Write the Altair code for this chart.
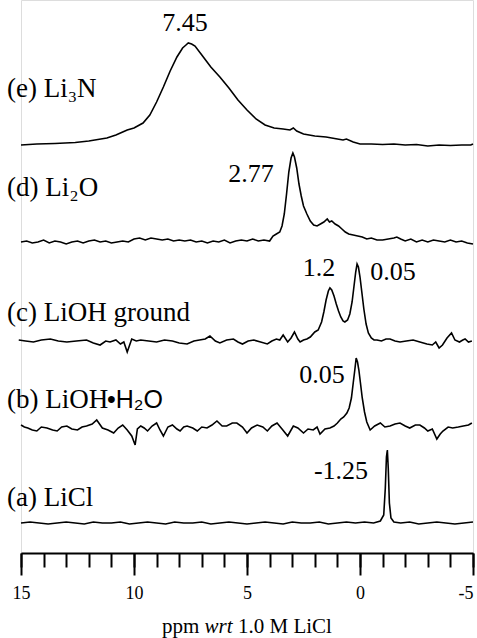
import altair as alt
import pandas as pd

# ---------------- data (ppm, intensity above each trace's own baseline) ----------------
series_names = ["a", "b", "c", "d", "e"]
offsets = {"a": 30, "b": 125, "c": 211, "d": 311, "e": 408}

a_ppm = [15.0, 14.6, 14.2, 13.8, 13.4, 13.0, 12.6, 12.2, 11.8, 11.4, 11.0, 10.6, 10.2, 9.8, 9.4,
         9.0, 8.6, 8.2, 7.8, 7.4, 7.0, 6.6, 6.2, 5.8, 5.4, 5.0, 4.6, 4.2, 3.8, 3.4, 3.0, 2.6, 2.2,
         1.8, 1.4, 1.0, 0.6, 0.2, -0.2, -0.6, -0.9, -1.05, -1.12, -1.17, -1.21, -1.25, -1.3, -1.37,
         -1.5, -1.8, -2.2, -2.6, -3.0, -3.4, -3.8, -4.2, -4.6, -5.0]
a_int = [0, 1, 0, -1, 0, 1, 0, -1, 1, 0, 0, 1, -1, 0, 1,
         0, -1, 1, 0, 0, 1, -1, 0, 1, 0, -1, 0, 1, 0, -1, 1, 0, 0,
         1, -1, 0, 1, 0, 1, 0, 2, 8, 35, 66, 73, 55, 20, 5,
         1, 0, 1, -1, 0, 1, 0, -1, 0, 1]

b_ppm = [15.0, 14.85, 14.7, 14.5, 14.3, 14.1, 13.85, 13.6, 13.4, 13.2, 12.97, 12.75, 12.5, 12.3,
         12.1, 11.85, 11.65, 11.4, 11.15, 10.9, 10.7, 10.5, 10.3, 10.1, 9.95, 9.85, 9.7, 9.55, 9.4,
         9.2, 9.0, 8.85, 8.7, 8.5, 8.3, 8.1, 7.96, 7.8, 7.65, 7.4, 7.2, 7.0, 6.77, 6.55, 6.33, 6.1,
         5.9, 5.65, 5.45, 5.2, 5.0, 4.8, 4.55, 4.3, 4.1, 3.9, 3.67, 3.45, 3.2, 2.95, 2.75, 2.5,
         2.3, 2.07, 1.9, 1.77, 1.55, 1.33, 1.15, 1.0, 0.85, 0.72, 0.58, 0.48, 0.38, 0.3, 0.23,
         0.17, 0.11, 0.05, -0.02, -0.1, -0.2, -0.3, -0.45, -0.65, -0.9, -1.1, -1.33, -1.55, -1.77,
         -2.0, -2.2, -2.45, -2.65, -2.85, -3.0, -3.2, -3.4, -3.55, -3.67, -3.9, -4.1, -4.35,
         -4.57, -4.8, -4.95]
b_int = [3, 1, 0, -2, -3, 1, 0, -2, -3, 1, 2, -1, -2, 1,
         2, 4, 8, 0, -2, -5, 0, 3, -2, -8, -17, -1, 2, 0, -3,
         2, 5, -2, -8, 1, 3, -1, -3, 1, 2, 0, -3, 1, 0, 3, 7, 2,
         2, 5, 5, 1, -5, 0, 3, 1, -3, 2, 5, -1, -8, 2, 0, -5,
         -1, -2, 1, -6, -1, 0, 2, 5, 9, 11, 15, 20, 30, 45, 58,
         70, 66, 58, 45, 30, 16, 6, -2, 2, 5, 1, 2, 4, 5,
         2, 0, 3, 3, 0, -3, -1, -11, -6, -3, 1, 0, 1,
         2, 3, 5]

c_ppm = [15.1, 14.8, 14.45, 14.1, 13.7, 13.35, 12.97, 12.55, 12.1, 11.8, 11.5, 11.25, 11.06, 10.8,
         10.6, 10.45, 10.3, 10.1, 9.9, 9.7, 9.35, 9.0, 8.65, 8.3, 8.0, 7.65, 7.35, 7.1, 6.85, 6.64,
         6.4, 6.2, 5.9, 5.6, 5.4, 5.2, 4.95, 4.7, 4.4, 4.1, 3.9, 3.7, 3.55, 3.4, 3.2, 3.05, 2.9,
         2.75, 2.65, 2.5, 2.35, 2.2, 2.0, 1.85, 1.7, 1.6, 1.5, 1.4, 1.33, 1.25, 1.15, 1.05, 0.95,
         0.85, 0.75, 0.67, 0.55, 0.45, 0.35, 0.27, 0.19, 0.13, 0.07, 0.0, -0.08, -0.17, -0.27,
         -0.37, -0.5, -0.62, -0.75, -0.95, -1.15, -1.33, -1.55, -1.77, -2.05, -2.35, -2.65, -2.96,
         -3.2, -3.35, -3.5, -3.65, -3.85, -4.05, -4.2, -4.4, -4.55, -4.65, -4.8, -4.95]
c_int = [2, 1, 0, 2, 3, 1, 0, 1, 2, -1, -3, 1, 0, 2,
         -2, 0, -10, 3, 1, 2, 1, 0, 2, 1, -1, -2, 1, 2, 3, 6,
         1, -1, 2, 3, 0, -2, 1, 2, 0, -2, 1, 3, 2, 7, 0, 4, 10,
         3, 0, 2, 3, 5, 10, 12, 20, 30, 42, 51, 54, 52, 46, 38, 31,
         25, 21, 20, 22, 28, 40, 55, 70, 78, 75, 65, 50, 33, 18,
         9, 4, 2, 2, 1, 3, 3, 1, 0, 1, 2, 0, -2,
         -3, 0, -6, -3, 4, 9, 2, 0, 2, 3, 0, 1]

d_ppm = [15.0, 14.75, 14.5, 14.25, 14.0, 13.75, 13.5, 13.25, 13.0, 12.75, 12.5, 12.25, 12.0,
         11.75, 11.5, 11.25, 11.0, 10.75, 10.5, 10.25, 10.0, 9.75, 9.5, 9.25, 9.0, 8.75, 8.5,
         8.25, 8.0, 7.75, 7.5, 7.25, 7.0, 6.75, 6.5, 6.25, 6.0, 5.75, 5.5, 5.25, 5.0, 4.75, 4.5,
         4.25, 4.0, 3.85, 3.7, 3.55, 3.45, 3.35, 3.25, 3.15, 3.05, 2.97, 2.9, 2.8, 2.7, 2.6, 2.5,
         2.35, 2.2, 2.05, 1.9, 1.75, 1.6, 1.45, 1.35, 1.25, 1.1, 0.95, 0.8, 0.65, 0.5, 0.3, 0.1,
         -0.1, -0.3, -0.5, -0.75, -1.0, -1.25, -1.5, -1.63, -1.8, -2.0, -2.25, -2.5, -2.75, -3.0,
         -3.25, -3.5, -3.75, -4.0, -4.25, -4.5, -4.75, -5.0]
d_int = [0, 1, -1, 0, 2, -1, 1, 0, -2, 0, 1, -1, 1,
         2, 0, 1, -1, 0, 1, 0, 3, 4, 2, 4, 3, 2, 3,
         1, 2, 1, 2, 0, 1, -1, 1, 0, 2, -1, 1, 2, 1, 3, 1,
         2, 1, 6, 8, 10, 16, 28, 48, 70, 84, 89, 85, 74, 58, 46, 36,
         28, 21, 17, 16, 18, 20, 23, 20, 21, 18, 16, 13, 10, 8, 7, 6,
         5, 3, 4, 2, 2, 3, 4, 5, 3, 1, 3, 0, 2, 0,
         2, 1, 0, 2, 0, 1, -1, -2]

e_ppm = [15.0, 14.3, 13.5, 12.6, 12.0, 11.2, 10.8, 10.5, 10.3, 10.0, 9.6, 9.3, 9.0, 8.7, 8.4,
         8.1, 7.85, 7.7, 7.6, 7.45, 7.3, 7.0, 6.6, 6.2, 5.8, 5.4, 5.0, 4.6, 4.2, 3.8, 3.4, 3.1,
         2.95, 2.8, 2.5, 2.0, 1.5, 1.0, 0.75, 0.6, 0.3, 0.0, -0.5, -1.0, -1.5, -2.0, -2.5, -3.0,
         -3.5, -4.0, -4.5, -4.9, -5.0]
e_int = [0, 1, 1.5, 2.5, 4, 7, 10, 13, 15, 17, 22, 30, 43, 58, 74,
         88, 97, 100, 102, 101, 99, 90, 78, 68, 57, 45, 35, 26, 20, 17, 16, 15,
         17, 14, 11, 9, 8, 6, 5, 6, 3, 1, 1, 0.5, 1, 0, 0.5, -1,
         0, -0.5, 0, 0, 1]

labels_text = ["(e) Li₃N", "(d) Li₂O", "(c) LiOH ground", "(b) LiOH", "(a) LiCl"]
labels_ppm = [15.62, 15.62, 15.62, 15.62, 15.62]
labels_y = [464, 365, 240, 153, 55]

sans_text = ["•H₂O"]
sans_ppm = [11.2]
sans_y = [153]

peak_text = ["7.45", "2.77", "1.2", "0.05", "0.05", "-1.25"]
peak_ppm = [7.74, 4.82, 1.81, -1.46, 1.68, 0.84]
peak_y = [530, 379, 285, 281, 178, 82]

# axis title pieces ("wrt" is italic)
title_text = ["ppm", "1.0 M LiCl"]
title_ppm = [8.76, 5.40]
title_y = [-74, -74]
title_it_text = ["wrt"]
title_it_ppm = [6.88]
title_it_y = [-74]

major_ticks = [15, 10, 5, 0, -5]
minor_ticks = [15, 14, 13, 12, 11, 10, 9, 8, 7, 6, 5, 4, 3, 2, 1, 0, -1, -2, -3, -4, -5]

# ---------------- build table ----------------
rows = []
for name, xs, ys in [("a", a_ppm, a_int), ("b", b_ppm, b_int), ("c", c_ppm, c_int),
                     ("d", d_ppm, d_int), ("e", e_ppm, e_int)]:
    for i, (p, v) in enumerate(zip(xs, ys)):
        rows.append({"series": name, "idx": i, "ppm": p, "y": offsets[name] + v})
spec = pd.DataFrame(rows)

lab = pd.DataFrame({"t": labels_text, "ppm": labels_ppm, "y": labels_y})
lab2 = pd.DataFrame({"t": sans_text, "ppm": sans_ppm, "y": sans_y})
pk = pd.DataFrame({"t": peak_text, "ppm": peak_ppm, "y": peak_y})
tt = pd.DataFrame({"t": title_text, "ppm": title_ppm, "y": title_y})
tt_it = pd.DataFrame({"t": title_it_text, "ppm": title_it_ppm, "y": title_it_y})

xscale = alt.Scale(domain=[15, -5], nice=False, zero=False)
yscale = alt.Scale(domain=[0, 553], nice=False, zero=False)

minor_axis = alt.Axis(values=minor_ticks, tickSize=14, tickWidth=2, tickColor="black",
                      domain=True, domainWidth=2, domainColor="black", labels=False,
                      grid=False, title=None, orient="bottom")
major_axis = alt.Axis(values=major_ticks, tickSize=22, tickWidth=2, tickColor="black",
                      domain=False, labels=True, labelFont="Liberation Serif",
                      labelFontSize=18, labelColor="black", labelPadding=9,
                      labelExpr="datum.value < 0 ? '-' + abs(datum.value) : '' + datum.value",
                      labelAlign=alt.ExprRef(expr="datum.value == -5 ? 'right' : 'center'"),
                      labelFlush=False, labelOverlap=False, grid=False,
                      title=None, orient="bottom")

lines = alt.Chart(spec).mark_line(color="black", strokeWidth=1.6).encode(
    x=alt.X("ppm:Q", scale=xscale, axis=minor_axis),
    y=alt.Y("y:Q", scale=yscale, axis=None),
    detail="series:N",
    order="idx:Q",
)

axis_layer = alt.Chart(pk).mark_point(opacity=0).encode(
    x=alt.X("ppm:Q", scale=xscale, axis=major_axis),
    y=alt.Y("y:Q", scale=yscale, axis=None),
)


def text_layer(df, font, size, align, style="normal"):
    return alt.Chart(df).mark_text(align=align, baseline="middle", font=font, fontSize=size,
                                   fontStyle=style, color="black").encode(
        x=alt.X("ppm:Q", scale=xscale, axis=None),
        y=alt.Y("y:Q", scale=yscale, axis=None),
        text="t:N",
    )


label_layer = text_layer(lab, "Liberation Serif", 27, "left")
sans_layer = text_layer(lab2, "Liberation Sans", 25, "left")
peak_layer = text_layer(pk, "Liberation Serif", 26, "center")
title_layer = text_layer(tt, "Liberation Serif", 21, "left")
title_it_layer = text_layer(tt_it, "Liberation Serif", 21, "left", "italic")

chart = alt.layer(lines, axis_layer, label_layer, sans_layer, peak_layer, title_layer,
                  title_it_layer).resolve_axis(
    x="independent"
).properties(
    width=452, height=553,
    autosize=alt.AutoSizeParams(type="none"),
    padding={"left": 21, "top": 0, "right": 4, "bottom": 85},
).configure_view(stroke=None).configure(background="white")

chart.save("out.html", embed_options={"renderer": "svg", "actions": False})
